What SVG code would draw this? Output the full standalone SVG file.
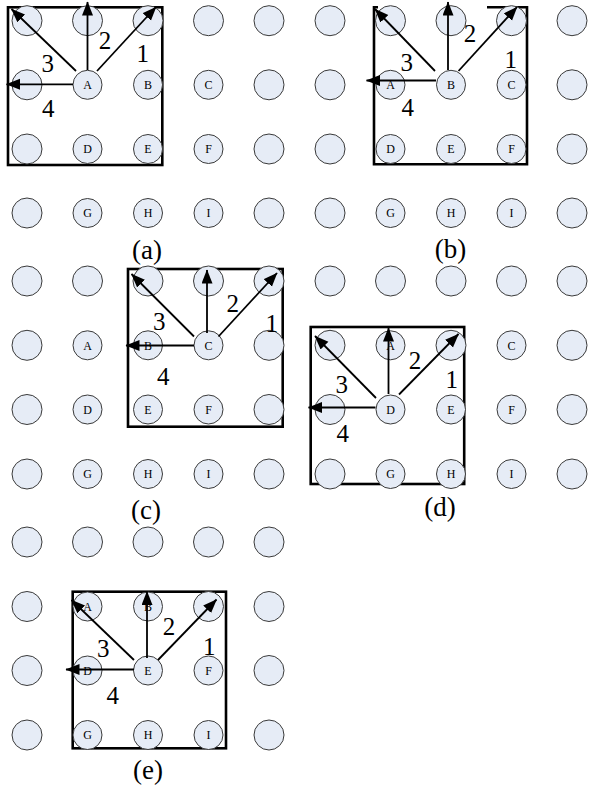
<svg xmlns="http://www.w3.org/2000/svg" width="589" height="787" viewBox="0 0 589 787">
<style>
.c{fill:#E6ECF6;stroke:#3a3a3a;stroke-width:1}
.t{font-family:"Liberation Serif","Times New Roman",serif;text-anchor:middle;fill:#000}
.l{font-size:12px}
.n{font-size:25px}
.cap{font-size:27px}
.fr{fill:none;stroke:#000;stroke-width:2.6}
.ar{stroke:#000;stroke-width:1.8;fill:none;marker-end:url(#ah)}
</style>
<defs>
<marker id="ah" markerUnits="userSpaceOnUse" markerWidth="15" markerHeight="12" refX="13.5" refY="5.5" orient="auto">
<path d="M0,0 L14,5.5 L0,11 z" fill="#000"/>
</marker>
</defs>
<rect width="589" height="787" fill="#fff"/>
<g id="frames">
<rect class="fr" x="8" y="7.3" width="154.3" height="157.7"/>
<path class="fr" d="M487,7.3 H527 V164.3 H374 V7.3 H378"/>
<rect class="fr" x="128" y="269" width="154.7" height="157.7"/>
<rect class="fr" x="310.7" y="327" width="153.5" height="157"/>
<rect class="fr" x="72.7" y="591.7" width="153.3" height="156.6"/>
</g>
<g id="nodes">
<g id="t0-0"><circle class="c" cx="27" cy="20.7" r="15"/></g>
<g id="t0-1"><circle class="c" cx="87.5" cy="20.7" r="15"/></g>
<g id="t0-2"><circle class="c" cx="148" cy="20.7" r="15"/></g>
<g id="t0-3"><circle class="c" cx="208.5" cy="20.7" r="15"/></g>
<g id="t0-4"><circle class="c" cx="269" cy="20.7" r="15"/></g>
<g id="t0-5"><circle class="c" cx="330" cy="20.7" r="15"/></g>
<g id="t0-6"><circle class="c" cx="390.5" cy="20.7" r="15"/></g>
<g id="t0-7"><circle class="c" cx="451" cy="20.7" r="15"/></g>
<g id="t0-8"><circle class="c" cx="511.5" cy="20.7" r="15"/></g>
<g id="t0-9"><circle class="c" cx="572" cy="20.7" r="15"/></g>
<g id="t1-0"><circle class="c" cx="27" cy="84.8" r="15"/></g>
<g id="t1-1"><circle class="c" cx="87.5" cy="84.8" r="14.5"/><text class="t l" x="87.5" y="89">A</text></g>
<g id="t1-2"><circle class="c" cx="148" cy="84.8" r="14.5"/><text class="t l" x="148" y="89">B</text></g>
<g id="t1-3"><circle class="c" cx="208.5" cy="84.8" r="14.5"/><text class="t l" x="208.5" y="89">C</text></g>
<g id="t1-4"><circle class="c" cx="269" cy="84.8" r="15"/></g>
<g id="t1-5"><circle class="c" cx="330" cy="84.8" r="15"/></g>
<g id="t1-6"><circle class="c" cx="390.5" cy="84.8" r="14.5"/><text class="t l" x="390.5" y="89">A</text></g>
<g id="t1-7"><circle class="c" cx="451" cy="84.8" r="14.5"/><text class="t l" x="451" y="89">B</text></g>
<g id="t1-8"><circle class="c" cx="511.5" cy="84.8" r="14.5"/><text class="t l" x="511.5" y="89">C</text></g>
<g id="t1-9"><circle class="c" cx="572" cy="84.8" r="15"/></g>
<g id="t2-0"><circle class="c" cx="27" cy="149" r="15"/></g>
<g id="t2-1"><circle class="c" cx="87.5" cy="149" r="14.5"/><text class="t l" x="87.5" y="153.2">D</text></g>
<g id="t2-2"><circle class="c" cx="148" cy="149" r="14.5"/><text class="t l" x="148" y="153.2">E</text></g>
<g id="t2-3"><circle class="c" cx="208.5" cy="149" r="14.5"/><text class="t l" x="208.5" y="153.2">F</text></g>
<g id="t2-4"><circle class="c" cx="269" cy="149" r="15"/></g>
<g id="t2-5"><circle class="c" cx="330" cy="149" r="15"/></g>
<g id="t2-6"><circle class="c" cx="390.5" cy="149" r="14.5"/><text class="t l" x="390.5" y="153.2">D</text></g>
<g id="t2-7"><circle class="c" cx="451" cy="149" r="14.5"/><text class="t l" x="451" y="153.2">E</text></g>
<g id="t2-8"><circle class="c" cx="511.5" cy="149" r="14.5"/><text class="t l" x="511.5" y="153.2">F</text></g>
<g id="t2-9"><circle class="c" cx="572" cy="149" r="15"/></g>
<g id="t3-0"><circle class="c" cx="27" cy="213" r="15"/></g>
<g id="t3-1"><circle class="c" cx="87.5" cy="213" r="14.5"/><text class="t l" x="87.5" y="217.2">G</text></g>
<g id="t3-2"><circle class="c" cx="148" cy="213" r="14.5"/><text class="t l" x="148" y="217.2">H</text></g>
<g id="t3-3"><circle class="c" cx="208.5" cy="213" r="14.5"/><text class="t l" x="208.5" y="217.2">I</text></g>
<g id="t3-4"><circle class="c" cx="269" cy="213" r="15"/></g>
<g id="t3-5"><circle class="c" cx="330" cy="213" r="15"/></g>
<g id="t3-6"><circle class="c" cx="390.5" cy="213" r="14.5"/><text class="t l" x="390.5" y="217.2">G</text></g>
<g id="t3-7"><circle class="c" cx="451" cy="213" r="14.5"/><text class="t l" x="451" y="217.2">H</text></g>
<g id="t3-8"><circle class="c" cx="511.5" cy="213" r="14.5"/><text class="t l" x="511.5" y="217.2">I</text></g>
<g id="t3-9"><circle class="c" cx="572" cy="213" r="15"/></g>
<g id="m0-0"><circle class="c" cx="27" cy="281" r="15"/></g>
<g id="m0-1"><circle class="c" cx="87.5" cy="281" r="15"/></g>
<g id="m0-2"><circle class="c" cx="148" cy="281" r="15"/></g>
<g id="m0-3"><circle class="c" cx="208.5" cy="281" r="15"/></g>
<g id="m0-4"><circle class="c" cx="269" cy="281" r="15"/></g>
<g id="m0-5"><circle class="c" cx="330" cy="281" r="15"/></g>
<g id="m0-6"><circle class="c" cx="390.5" cy="281" r="15"/></g>
<g id="m0-7"><circle class="c" cx="451" cy="281" r="15"/></g>
<g id="m0-8"><circle class="c" cx="511.5" cy="281" r="15"/></g>
<g id="m0-9"><circle class="c" cx="572" cy="281" r="15"/></g>
<g id="m1-0"><circle class="c" cx="27" cy="345.3" r="15"/></g>
<g id="m1-1"><circle class="c" cx="87.5" cy="345.3" r="14.5"/><text class="t l" x="87.5" y="349.5">A</text></g>
<g id="m1-2"><circle class="c" cx="148" cy="345.3" r="14.5"/><text class="t l" x="148" y="349.5">B</text></g>
<g id="m1-3"><circle class="c" cx="208.5" cy="345.3" r="14.5"/><text class="t l" x="208.5" y="349.5">C</text></g>
<g id="m1-4"><circle class="c" cx="269" cy="345.3" r="15"/></g>
<g id="m1-5"><circle class="c" cx="330" cy="345.3" r="15"/></g>
<g id="m1-6"><circle class="c" cx="390.5" cy="345.3" r="14.5"/><text class="t l" x="390.5" y="349.5">A</text></g>
<g id="m1-7"><circle class="c" cx="451" cy="345.3" r="15"/></g>
<g id="m1-8"><circle class="c" cx="511.5" cy="345.3" r="14.5"/><text class="t l" x="511.5" y="349.5">C</text></g>
<g id="m1-9"><circle class="c" cx="572" cy="345.3" r="15"/></g>
<g id="m2-0"><circle class="c" cx="27" cy="409.5" r="15"/></g>
<g id="m2-1"><circle class="c" cx="87.5" cy="409.5" r="14.5"/><text class="t l" x="87.5" y="413.7">D</text></g>
<g id="m2-2"><circle class="c" cx="148" cy="409.5" r="14.5"/><text class="t l" x="148" y="413.7">E</text></g>
<g id="m2-3"><circle class="c" cx="208.5" cy="409.5" r="14.5"/><text class="t l" x="208.5" y="413.7">F</text></g>
<g id="m2-4"><circle class="c" cx="269" cy="409.5" r="15"/></g>
<g id="m2-5"><circle class="c" cx="330" cy="409.5" r="15"/></g>
<g id="m2-6"><circle class="c" cx="390.5" cy="409.5" r="14.5"/><text class="t l" x="390.5" y="413.7">D</text></g>
<g id="m2-7"><circle class="c" cx="451" cy="409.5" r="14.5"/><text class="t l" x="451" y="413.7">E</text></g>
<g id="m2-8"><circle class="c" cx="511.5" cy="409.5" r="14.5"/><text class="t l" x="511.5" y="413.7">F</text></g>
<g id="m2-9"><circle class="c" cx="572" cy="409.5" r="15"/></g>
<g id="m3-0"><circle class="c" cx="27" cy="474" r="15"/></g>
<g id="m3-1"><circle class="c" cx="87.5" cy="474" r="14.5"/><text class="t l" x="87.5" y="478.2">G</text></g>
<g id="m3-2"><circle class="c" cx="148" cy="474" r="14.5"/><text class="t l" x="148" y="478.2">H</text></g>
<g id="m3-3"><circle class="c" cx="208.5" cy="474" r="14.5"/><text class="t l" x="208.5" y="478.2">I</text></g>
<g id="m3-4"><circle class="c" cx="269" cy="474" r="15"/></g>
<g id="m3-5"><circle class="c" cx="330" cy="474" r="15"/></g>
<g id="m3-6"><circle class="c" cx="390.5" cy="474" r="14.5"/><text class="t l" x="390.5" y="478.2">G</text></g>
<g id="m3-7"><circle class="c" cx="451" cy="474" r="14.5"/><text class="t l" x="451" y="478.2">H</text></g>
<g id="m3-8"><circle class="c" cx="511.5" cy="474" r="14.5"/><text class="t l" x="511.5" y="478.2">I</text></g>
<g id="m3-9"><circle class="c" cx="572" cy="474" r="15"/></g>
<g id="b0-0"><circle class="c" cx="27" cy="542" r="15"/></g>
<g id="b0-1"><circle class="c" cx="87.5" cy="542" r="15"/></g>
<g id="b0-2"><circle class="c" cx="148" cy="542" r="15"/></g>
<g id="b0-3"><circle class="c" cx="208.5" cy="542" r="15"/></g>
<g id="b0-4"><circle class="c" cx="269" cy="542" r="15"/></g>
<g id="b1-0"><circle class="c" cx="27" cy="606.5" r="15"/></g>
<g id="b1-1"><circle class="c" cx="87.5" cy="606.5" r="14.5"/><text class="t l" x="87.5" y="610.7">A</text></g>
<g id="b1-2"><circle class="c" cx="148" cy="606.5" r="14.5"/><text class="t l" x="148" y="610.7">B</text></g>
<g id="b1-3"><circle class="c" cx="208.5" cy="606.5" r="15"/></g>
<g id="b1-4"><circle class="c" cx="269" cy="606.5" r="15"/></g>
<g id="b2-0"><circle class="c" cx="27" cy="670.5" r="15"/></g>
<g id="b2-1"><circle class="c" cx="87.5" cy="670.5" r="14.5"/><text class="t l" x="87.5" y="674.7">D</text></g>
<g id="b2-2"><circle class="c" cx="148" cy="670.5" r="14.5"/><text class="t l" x="148" y="674.7">E</text></g>
<g id="b2-3"><circle class="c" cx="208.5" cy="670.5" r="14.5"/><text class="t l" x="208.5" y="674.7">F</text></g>
<g id="b2-4"><circle class="c" cx="269" cy="670.5" r="15"/></g>
<g id="b3-0"><circle class="c" cx="27" cy="735" r="15"/></g>
<g id="b3-1"><circle class="c" cx="87.5" cy="735" r="14.5"/><text class="t l" x="87.5" y="739.2">G</text></g>
<g id="b3-2"><circle class="c" cx="148" cy="735" r="14.5"/><text class="t l" x="148" y="739.2">H</text></g>
<g id="b3-3"><circle class="c" cx="208.5" cy="735" r="14.5"/><text class="t l" x="208.5" y="739.2">I</text></g>
<g id="b3-4"><circle class="c" cx="269" cy="735" r="15"/></g>
</g>
<g id="connectors">
<line class="ar" x1="97" y1="71" x2="156" y2="7"/>
<line class="ar" x1="87.5" y1="70" x2="87.5" y2="2"/>
<line class="ar" x1="76" y1="71" x2="11.5" y2="9"/>
<line class="ar" x1="73" y1="84.3" x2="6.5" y2="84.3"/>
<line class="ar" x1="458.5" y1="71" x2="517" y2="7"/>
<line class="ar" x1="448" y1="70" x2="448" y2="2"/>
<line class="ar" x1="435" y1="71" x2="375" y2="9"/>
<line class="ar" x1="436" y1="80.5" x2="366.5" y2="80.5"/>
<line class="ar" x1="218.5" y1="336.5" x2="277" y2="273"/>
<line class="ar" x1="207" y1="333" x2="207" y2="270"/>
<line class="ar" x1="194" y1="336.5" x2="131.5" y2="274"/>
<line class="ar" x1="194" y1="345.5" x2="126" y2="345.5"/>
<line class="ar" x1="399" y1="394.5" x2="458.5" y2="334"/>
<line class="ar" x1="388.5" y1="394" x2="388.5" y2="328"/>
<line class="ar" x1="376" y1="398" x2="315" y2="336"/>
<line class="ar" x1="375.5" y1="407.5" x2="308.5" y2="407.5"/>
<line class="ar" x1="158" y1="660" x2="216.5" y2="599.5"/>
<line class="ar" x1="147" y1="658" x2="147" y2="591.5"/>
<line class="ar" x1="134" y1="660" x2="71.5" y2="600"/>
<line class="ar" x1="134" y1="669.5" x2="66" y2="669.5"/>
</g>
<g id="labels">
<text class="t n" x="47.7" y="72">3</text>
<text class="t n" x="105" y="48.6">2</text>
<text class="t n" x="142.7" y="62">1</text>
<text class="t n" x="48.3" y="117">4</text>
<text class="t n" x="470" y="42">2</text>
<text class="t n" x="510.7" y="68">1</text>
<text class="t n" x="406.7" y="71">3</text>
<text class="t n" x="407.7" y="116">4</text>
<text class="t n" x="159.3" y="330.3">3</text>
<text class="t n" x="232.7" y="312">2</text>
<text class="t n" x="271.7" y="332">1</text>
<text class="t n" x="163.3" y="385.3">4</text>
<text class="t n" x="341.7" y="392.6">3</text>
<text class="t n" x="415" y="368.6">2</text>
<text class="t n" x="451.7" y="388">1</text>
<text class="t n" x="342.7" y="442">4</text>
<text class="t n" x="103.3" y="657">3</text>
<text class="t n" x="169" y="635.3">2</text>
<text class="t n" x="209.3" y="655.3">1</text>
<text class="t n" x="112.7" y="703.6">4</text>
<text class="t cap" x="147" y="258.5">(a)</text>
<text class="t cap" x="450.5" y="257.5">(b)</text>
<text class="t cap" x="146" y="518.5">(c)</text>
<text class="t cap" x="440" y="515.5">(d)</text>
<text class="t cap" x="148" y="779">(e)</text>
</g>
</svg>
